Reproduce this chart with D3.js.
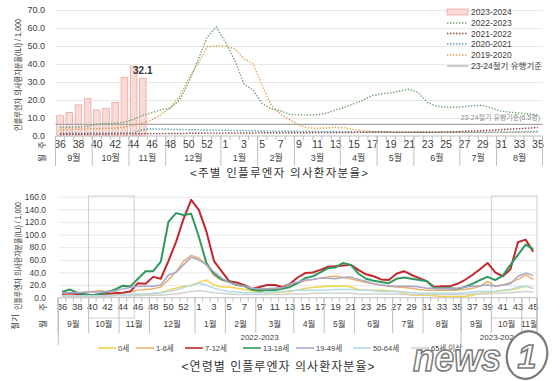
<!DOCTYPE html>
<html lang="ko">
<head>
    <meta charset="UTF-8">
    <title>인플루엔자 의사환자분율</title>
    <script src="https://d3js.org/d3.v7.min.js"></script>
    <style>
        body {margin: 0; background: #fff;}
        svg text {font-family: "Liberation Sans", "Noto Sans CJK KR", sans-serif;}
    </style>
</head>
<body>
<div id="chart"></div>

<script>
// ---------- top chart data (weekly ILI per 1,000) ----------
var weeksTop = [36,37,38,39,40,41,42,43,44,45,46,47,48,49,50,51,52,53,1,2,3,4,5,6,7,8,9,10,11,12,13,14,15,16,17,18,19,20,21,22,23,24,25,26,27,28,29,30,31,32,33,34,35];
var monthsTop = ["9월","10월","11월","12월","1월","2월","3월","4월","5월","6월","7월","8월"];
var monthWeeksTop = [4,4,4,6,4,4,5,4,4,5,4,5];

var season2324 = [11.3,13.0,17.3,20.8,14.5,15.4,18.6,32.6,38.8,32.1];
var season2223 = [4.7,4.9,5.0,5.3,6.5,7.0,7.0,7.6,9.3,11.5,
                  13.0,14.5,15.5,20.0,30.0,42.0,55.0,60.5,52.0,42.0,
                  29.0,25.5,18.0,15.0,14.0,12.0,11.8,11.7,11.8,12.7,
                  14.5,16.0,18.0,20.0,22.5,23.5,24.0,25.0,26.0,24.0,
                  18.5,16.5,16.0,16.0,16.3,16.8,17.0,15.5,13.8,13.2,
                  12.8,12.3,11.5];
var season2122 = [1.0,1.0,1.0,1.0,1.1,1.1,1.1,1.2,1.2,1.3,
                  1.3,1.3,1.4,1.4,1.5,1.5,1.6,1.6,1.6,1.7,
                  1.7,1.7,1.8,1.8,1.8,1.8,1.8,1.8,1.9,1.9,
                  1.9,1.9,2.0,2.0,2.0,2.0,2.0,2.0,2.0,2.1,
                  2.1,2.2,2.3,2.4,2.6,2.8,3.0,3.2,3.5,3.8,
                  4.1,4.4,4.7];
var season2021 = [1.5,1.5,1.5,1.5,1.6,1.6,1.6,1.7,1.7,3.6,
                  3.9,3.8,3.7,3.6,3.5,3.4,3.3,3.3,3.2,3.1,
                  3.0,2.9,2.8,2.7,2.7,2.6,2.6,2.5,2.5,2.4,
                  2.4,2.4,2.3,2.3,2.2,2.2,2.2,2.1,2.1,2.1,
                  2.1,2.0,2.0,2.0,2.0,2.0,2.1,2.1,2.2,2.3,
                  2.4,2.5,2.6];
var season1920 = [3.5,3.6,3.8,3.9,4.0,4.3,4.5,5.0,6.0,7.0,
                  9.0,12.0,15.5,22.0,32.0,40.0,49.5,50.0,49.8,48.5,
                  43.0,40.0,28.0,17.0,12.0,9.0,6.0,4.5,4.3,4.5,
                  4.8,4.5,3.5,2.8,2.5,2.4,2.3,2.2,2.2,2.1,
                  2.1,2.0,2.0,2.0,2.0,2.0,2.0,2.0,2.0,2.0,
                  2.0,2.0,2.0];
var threshold2324 = 6.5;

// ---------- bottom chart data (age groups) ----------
var weeksBottom = [36,37,38,39,40,41,42,43,44,45,46,47,48,49,50,51,52,53,1,2,3,4,5,6,7,8,9,10,11,12,13,14,15,16,17,18,19,20,21,22,23,24,25,26,27,28,29,30,31,32,33,34,35,36,37,38,39,40,41,42,43,44,45];
var monthsBottom = ["9월","10월","11월","12월","1월","2월","3월","4월","5월","6월","7월","8월","9월","10월","11월"];
var monthWeeksBottom = [4,4,4,6,4,4,5,4,4,5,4,5,4,4,2];
var seasonsBottom = ["2022-2023","2023-2024"];
var seasonWeeksBottom = [53,10];

var age0 = [4,4,3,3,3,3,4,4,4,5, 5,6,6,8,12,15,18,19,24,28, 20,17,17,15,13,11,9,8,8,9,
            10,12,15,16,17,18,18,19,17,13, 12,12,12,11,10,7,4,4,4,3, 2,2,2,2,4,7,8,10,11,12, 15,18,15];
var age1_6 = [6,7,6,8,10,11,10,9,8,9, 12,13,14,17,28,41,58,67,63,52, 35,28,24,20,18,15,13,12,14,16,
              20,23,27,29,31,33,34,32,30,27, 24,22,20,18,17,16,15,13,12,12, 12,12,12,13,15,18,26,18,20,24, 29,36,29];
var age7_12 = [6,7,6,5,4,5,6,7,8,10, 23,22,33,30,58,88,125,155,139,105, 58,42,26,24,20,14,17,20,20,17,
               22,32,39,40,44,49,50,51,52,44, 37,34,29,28,38,42,36,31,26,17, 18,18,22,28,36,45,55,40,34,45, 88,92,73];
var age13_18 = [9,13,8,5,4,6,9,13,19,18, 30,42,42,57,120,134,131,133,97,55, 38,29,25,20,18,13,11,12,12,14,
                17,23,31,34,40,47,48,55,52,38, 30,27,25,23,30,32,30,28,26,15, 15,15,14,17,22,28,33,28,35,52, 68,84,77];
var age19_49 = [7,8,8,9,9,9,10,11,14,16, 18,18,18,20,36,40,52,64,60,52, 41,31,24,20,18,15,14,14,15,16,
                22,25,28,29,31,31,30,32,33,29, 26,22,20,19,18,18,18,17,15,15, 14,14,15,17,18,19,20,18,20,22, 34,39,35];
var age50_64 = [3,3,3,3,3,3,4,4,5,5, 6,6,7,8,10,12,16,20,23,20, 15,12,10,9,8,8,8,8,9,10,
                11,12,12,12,12,12,13,13,13,12, 12,11,10,10,10,9,8,7,7,7, 7,7,7,8,9,10,10,10,12,13, 17,18,15];
var age65 = [2,2,2,2,2,2,2,3,3,3, 3,4,4,4,5,6,8,10,11,10, 8,7,6,5,5,5,5,5,5,5,
             6,6,6,7,7,7,7,7,7,6, 6,6,6,6,6,5,5,5,5,5, 5,5,5,5,6,6,6,7,7,8, 9,10,9];

var svg = d3.select("#chart").append("svg")
    .attr("width", 560)
    .attr("height", 381);

var textColor = "#404040";
var gridColor = "#e8e8e8";
var axisColor = "#bfbfbf";

// Draws week labels, tick marks, month cells under a plot
function drawCategoryAxis(x, y0, weeks, months, monthWeeks, opt) {
    var g = svg.append("g");
    var bw = x.bandwidth();
    var x0 = x.range()[0], x1 = x.range()[1];

    g.append("line").attr("x1", x0).attr("x2", x1).attr("y1", y0).attr("y2", y0)
        .attr("stroke", axisColor);

    // small ticks between weeks
    d3.range(weeks.length + 1).forEach(function(i){
        g.append("line").attr("x1", x0 + i*bw).attr("x2", x0 + i*bw)
            .attr("y1", y0).attr("y2", y0 + 4).attr("stroke", axisColor);
    });

    // week labels, every other one
    g.selectAll(".wk").data(weeks.filter(function(d,i){ return i % 2 === 0; })).enter().append("text")
        .attr("x", function(d,i){ return x(i*2) + bw/2; })
        .attr("y", opt.weekY)
        .attr("text-anchor", "middle")
        .attr("font-size", opt.weekSize)
        .attr("fill", textColor)
        .text(function(d){ return d; });

    // month cells
    var start = 0;
    var bounds = [0];
    months.forEach(function(m, k){
        var end = start + monthWeeks[k];
        g.append("text")
            .attr("x", x0 + (start + end)/2*bw)
            .attr("y", opt.monthY)
            .attr("text-anchor", "middle")
            .attr("font-size", opt.monthSize)
            .attr("fill", textColor)
            .text(m);
        bounds.push(end);
        start = end;
    });
    bounds.forEach(function(b){
        g.append("line").attr("x1", x0 + b*bw).attr("x2", x0 + b*bw)
            .attr("y1", y0).attr("y2", opt.monthLineEnd).attr("stroke", axisColor);
    });

    // row headers
    g.append("text").attr("transform", "translate(" + opt.headX + "," + (opt.weekY - 3) + ") rotate(-90)")
        .attr("text-anchor", "middle").attr("dominant-baseline", "middle")
        .attr("font-size", 8.5).attr("fill", textColor).text("주");
    g.append("text").attr("transform", "translate(" + opt.headX + "," + (opt.monthY - 3) + ") rotate(-90)")
        .attr("text-anchor", "middle").attr("dominant-baseline", "middle")
        .attr("font-size", 8.5).attr("fill", textColor).text("월");
    return g;
}

function yTitle(cx, cy, len) {
    svg.append("text")
        .attr("transform", "translate(" + cx + "," + cy + ") rotate(-90)")
        .attr("text-anchor", "middle")
        .attr("dominant-baseline", "middle")
        .attr("font-size", 8.5)
        .attr("fill", textColor)
        .attr("textLength", len)
        .attr("lengthAdjust", "spacingAndGlyphs")
        .text("인플루엔자 의사환자분율(ILI) / 1,000");
}

// =================== TOP CHART ===================
var xTop = d3.scaleBand().domain(d3.range(weeksTop.length)).range([55.5, 542.5]);
var yTop = d3.scaleLinear().domain([0, 70]).range([136, 10]);
var bwTop = xTop.bandwidth();

// gridlines
svg.append("g")
    .attr("transform", "translate(55.5,0)")
    .call(d3.axisLeft(yTop).tickValues(d3.range(10, 71, 10)).tickSize(-487).tickFormat(""))
    .call(function(g){ g.select(".domain").remove(); })
    .selectAll("line").attr("stroke", gridColor);

// y labels
svg.append("g")
    .attr("transform", "translate(48,0)")
    .call(d3.axisLeft(yTop).tickValues(d3.range(0, 71, 10)).tickSize(0).tickFormat(d3.format(".1f")))
    .call(function(g){ g.select(".domain").remove(); })
    .selectAll("text").attr("font-size", 9).attr("fill", textColor);

yTitle(19, 75, 112);

// 2023-2024 bars
svg.selectAll(".bar").data(season2324).enter().append("rect")
    .attr("x", function(d,i){ return xTop(i) + bwTop*0.14; })
    .attr("width", bwTop*0.72)
    .attr("y", function(d){ return yTop(d); })
    .attr("height", function(d){ return yTop(0) - yTop(d); })
    .attr("fill", "#f9dad6")
    .attr("stroke", "#eaa9a3")
    .attr("stroke-width", 0.8);

// last bar value
var lastIdx = season2324.length - 1;
svg.append("text")
    .attr("x", xTop(lastIdx) + bwTop/2)
    .attr("y", yTop(season2324[lastIdx]) - 4)
    .attr("text-anchor", "middle")
    .attr("font-size", 10)
    .attr("font-weight", "bold")
    .attr("fill", "#333")
    .text(season2324[lastIdx].toFixed(1));

// threshold line
svg.append("line")
    .attr("x1", xTop.range()[0]).attr("x2", xTop.range()[1])
    .attr("y1", yTop(threshold2324)).attr("y2", yTop(threshold2324))
    .attr("stroke", "#a6a6a6").attr("stroke-width", 1.2);
svg.append("text")
    .attr("x", 540).attr("y", yTop(threshold2324) - 4)
    .attr("text-anchor", "end")
    .attr("font-size", 7)
    .attr("fill", "#8c8c8c")
    .text("23-24절기 유행기준(6.5명)");

var topSeries = [
    {name: "2022-2023", values: season2223, color: "#6f9f6f"},
    {name: "2021-2022", values: season2122, color: "#8e3b3b"},
    {name: "2020-2021", values: season2021, color: "#4e9db3"},
    {name: "2019-2020", values: season1920, color: "#dca24c"}
];

var lineTop = d3.line()
    .x(function(d,i){ return xTop(i) + bwTop/2; })
    .y(function(d){ return yTop(d); });

topSeries.slice().reverse().forEach(function(s){
    svg.append("path")
        .datum(s.values)
        .attr("d", lineTop)
        .attr("fill", "none")
        .attr("stroke", s.color)
        .attr("stroke-width", 1.4)
        .attr("stroke-dasharray", "1.4,1.6");
});

drawCategoryAxis(xTop, 136, weeksTop, monthsTop, monthWeeksTop, {
    weekY: 148, weekSize: 10.5, monthY: 161, monthSize: 9, monthLineEnd: 166, headX: 43
});

svg.append("text")
    .attr("x", 279).attr("y", 177)
    .attr("text-anchor", "middle")
    .attr("font-size", 11.5)
    .attr("fill", "#333")
    .attr("textLength", 178)
    .attr("lengthAdjust", "spacing")
    .text("<주별 인플루엔자 의사환자분율>");

// top legend
var legTop = svg.append("g").attr("transform", "translate(447,0)");
var legRows = [12, 23, 33.5, 44, 55, 66];
legTop.append("rect").attr("x", 0).attr("y", legRows[0] - 3).attr("width", 21).attr("height", 6)
    .attr("fill", "#f9dad6").attr("stroke", "#eaa9a3").attr("stroke-width", 0.8);
legTop.append("text").attr("x", 24).attr("y", legRows[0] + 3).attr("font-size", 8.5)
    .attr("fill", textColor).text("2023-2024");
topSeries.forEach(function(s, k){
    var yy = legRows[k + 1];
    legTop.append("line").attr("x1", 0).attr("x2", 21).attr("y1", yy).attr("y2", yy)
        .attr("stroke", s.color).attr("stroke-width", 1.4).attr("stroke-dasharray", "1.4,1.6");
    legTop.append("text").attr("x", 24).attr("y", yy + 3).attr("font-size", 8.5)
        .attr("fill", textColor).text(s.name);
});
legTop.append("line").attr("x1", 0).attr("x2", 21).attr("y1", legRows[5]).attr("y2", legRows[5])
    .attr("stroke", "#a6a6a6").attr("stroke-width", 1.2);
legTop.append("text").attr("x", 24).attr("y", legRows[5] + 3).attr("font-size", 8.5)
    .attr("fill", textColor).text("23-24절기 유행기준");

// =================== BOTTOM CHART ===================
var xBot = d3.scaleBand().domain(d3.range(weeksBottom.length)).range([58.2, 537]);
var yBot = d3.scaleLinear().domain([0, 160]).range([297.7, 196.7]);
var bwBot = xBot.bandwidth();

svg.append("g")
    .attr("transform", "translate(58.2,0)")
    .call(d3.axisLeft(yBot).tickValues(d3.range(20, 161, 20)).tickSize(-(537 - 58.2)).tickFormat(""))
    .call(function(g){ g.select(".domain").remove(); })
    .selectAll("line").attr("stroke", gridColor);

svg.append("g")
    .attr("transform", "translate(49,0)")
    .call(d3.axisLeft(yBot).tickValues(d3.range(0, 161, 20)).tickSize(0).tickFormat(d3.format(".1f")))
    .call(function(g){ g.select(".domain").remove(); })
    .selectAll("text").attr("font-size", 8.5).attr("fill", textColor);

yTitle(19, 256, 108);

// highlight boxes (weeks 41-45 of each season)
[[4, 9], [57, 62]].forEach(function(b){
    svg.append("rect")
        .attr("x", xBot(b[0])).attr("y", 196)
        .attr("width", xBot(b[1]) + bwBot - xBot(b[0]))
        .attr("height", 122)
        .attr("fill", "none")
        .attr("stroke", "#cfcfcf")
        .attr("stroke-width", 1);
});

var ageSeries = [
    {name: "0세", values: age0, color: "#f3d34a", width: 1.5},
    {name: "1-6세", values: age1_6, color: "#e7b26c", width: 1.5},
    {name: "7-12세", values: age7_12, color: "#c1272d", width: 2},
    {name: "13-18세", values: age13_18, color: "#2f9a5c", width: 2},
    {name: "19-49세", values: age19_49, color: "#aaa6cc", width: 1.5},
    {name: "50-64세", values: age50_64, color: "#b3dbe6", width: 1.5},
    {name: "65세 이상", values: age65, color: "#d2d2d2", width: 1.5}
];

var lineBot = d3.line()
    .x(function(d,i){ return xBot(i) + bwBot/2; })
    .y(function(d){ return yBot(d); });

ageSeries.forEach(function(s){
    svg.append("path")
        .datum(s.values)
        .attr("d", lineBot)
        .attr("fill", "none")
        .attr("stroke", s.color)
        .attr("stroke-width", s.width)
        .attr("stroke-linejoin", "round");
});

drawCategoryAxis(xBot, 297.7, weeksBottom, monthsBottom, monthWeeksBottom, {
    weekY: 310, weekSize: 9.5, monthY: 327, monthSize: 8.5, monthLineEnd: 333, headX: 44
});

// season row
var sStart = 0;
var sBounds = [0];
seasonsBottom.forEach(function(s, k){
    var sEnd = sStart + seasonWeeksBottom[k];
    svg.append("text")
        .attr("x", xBot.range()[0] + (sStart + sEnd)/2*bwBot)
        .attr("y", 340)
        .attr("text-anchor", "middle")
        .attr("font-size", 8)
        .attr("fill", textColor)
        .text(s);
    sBounds.push(sEnd);
    sStart = sEnd;
});
sBounds.forEach(function(b){
    svg.append("line")
        .attr("x1", xBot.range()[0] + b*bwBot).attr("x2", xBot.range()[0] + b*bwBot)
        .attr("y1", 297.7).attr("y2", 345)
        .attr("stroke", axisColor);
});
svg.append("text")
    .attr("transform", "translate(16,322) rotate(-90)")
    .attr("text-anchor", "middle").attr("dominant-baseline", "middle")
    .attr("font-size", 8.5).attr("fill", textColor).text("절기");

// bottom legend
var legX = [98, 136, 185, 243, 296, 353, 411];
ageSeries.forEach(function(s, k){
    svg.append("line")
        .attr("x1", legX[k]).attr("x2", legX[k] + 18)
        .attr("y1", 348).attr("y2", 348)
        .attr("stroke", s.color).attr("stroke-width", 1.6);
    svg.append("text")
        .attr("x", legX[k] + 20).attr("y", 351)
        .attr("font-size", 7.5)
        .attr("fill", textColor)
        .text(s.name);
});

svg.append("text")
    .attr("x", 278).attr("y", 371)
    .attr("text-anchor", "middle")
    .attr("font-size", 12)
    .attr("fill", "#333")
    .attr("textLength", 193)
    .attr("lengthAdjust", "spacing")
    .text("<연령별 인플루엔자 의사환자분율>");

// watermark
var logo = svg.append("g");
logo.append("text")
    .attr("x", 413).attr("y", 371)
    .attr("font-family", "DejaVu Sans")
    .attr("font-size", 38)
    .attr("font-style", "italic")
    .attr("font-weight", "bold")
    .attr("textLength", 88)
    .attr("lengthAdjust", "spacingAndGlyphs")
    .attr("fill", "#ffffff")
    .attr("stroke", "#7a7a7a")
    .attr("stroke-width", 1.6)
    .text("news");
logo.append("ellipse")
    .attr("cx", 527).attr("cy", 355).attr("rx", 20).attr("ry", 24)
    .attr("transform", "rotate(15,527,355)")
    .attr("fill", "#ffffff")
    .attr("stroke", "#7a7a7a")
    .attr("stroke-width", 2.2);
logo.append("text")
    .attr("x", 527).attr("y", 368)
    .attr("text-anchor", "middle")
    .attr("font-family", "DejaVu Sans")
    .attr("font-size", 34)
    .attr("font-style", "italic")
    .attr("font-weight", "bold")
    .attr("fill", "#ffffff")
    .attr("stroke", "#7a7a7a")
    .attr("stroke-width", 1.6)
    .text("1");
</script>
</body>
</html>
